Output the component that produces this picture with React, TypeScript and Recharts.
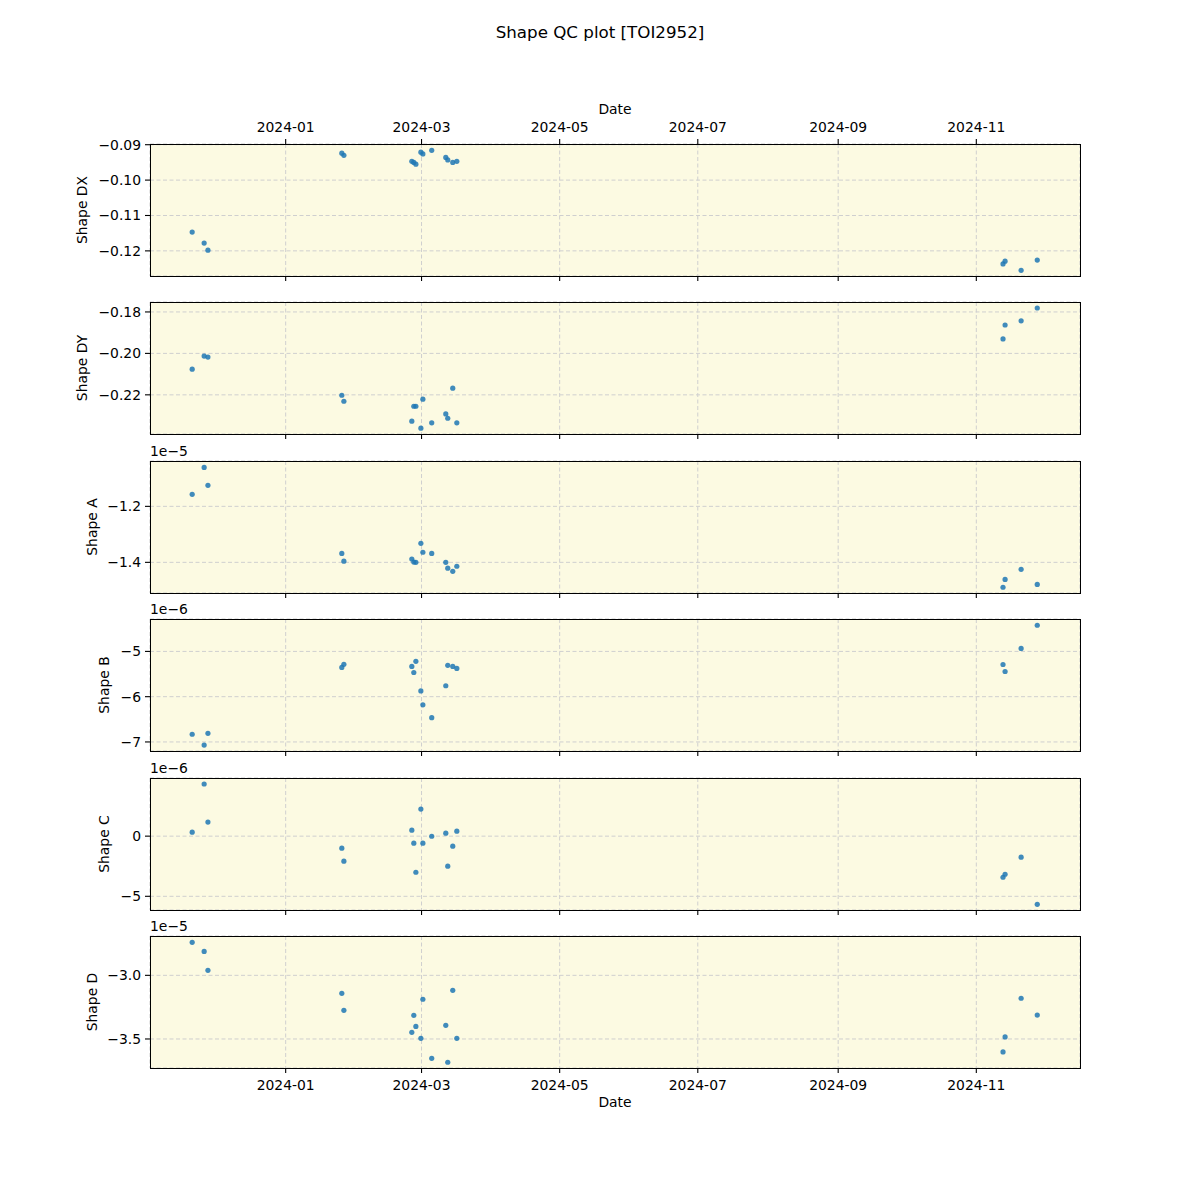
import React from 'react';
import { ScatterChart, Scatter, XAxis, YAxis, CartesianGrid } from 'recharts';

// observation times (UTC)
const dates = [
  '2023-11-20T17:00', '2023-11-26T00:00', '2023-11-27T16:00',
  '2024-01-25T19:00', '2024-01-26T17:00',
  '2024-02-25T17:00', '2024-02-26T14:00', '2024-02-27T12:00',
  '2024-02-29T17:00', '2024-03-01T14:00', '2024-03-05T12:00',
  '2024-03-11T17:00', '2024-03-12T14:00', '2024-03-14T19:00', '2024-03-16T14:00',
  '2024-11-12T19:00', '2024-11-13T17:00', '2024-11-20T19:00', '2024-11-27T22:00',
];

const shapeDX = [
  -0.1147, -0.1178, -0.1198,
  -0.0924, -0.0930,
  -0.0947, -0.0950, -0.0955,
  -0.0921, -0.0926, -0.0916,
  -0.0936, -0.0943, -0.0950, -0.0947,
  -0.1237, -0.1229, -0.1255, -0.1226,
];

const shapeDY = [
  -0.2076, -0.2013, -0.2018,
  -0.2202, -0.2231,
  -0.2327, -0.2255, -0.2255,
  -0.2361, -0.2221, -0.2335,
  -0.2292, -0.2313, -0.2168, -0.2335,
  -0.1930, -0.1863, -0.1843, -0.1781,
];

const shapeA = [
  -1.157e-5, -1.061e-5, -1.125e-5,
  -1.368e-5, -1.396e-5,
  -1.388e-5, -1.399e-5, -1.400e-5,
  -1.332e-5, -1.364e-5, -1.368e-5,
  -1.400e-5, -1.421e-5, -1.432e-5, -1.414e-5,
  -1.489e-5, -1.461e-5, -1.425e-5, -1.479e-5,
];

const shapeB = [
  -6.83e-6, -7.07e-6, -6.81e-6,
  -5.353e-6, -5.286e-6,
  -5.331e-6, -5.466e-6, -5.218e-6,
  -5.872e-6, -6.181e-6, -6.464e-6,
  -5.759e-6, -5.308e-6, -5.331e-6, -5.376e-6,
  -5.289e-6, -5.444e-6, -4.933e-6, -4.422e-6,
];

const shapeC = [
  0.333e-6, 4.333e-6, 1.167e-6,
  -1.0e-6, -2.083e-6,
  0.5e-6, -0.583e-6, -3.0e-6,
  2.25e-6, -0.583e-6, -0.01e-6,
  0.25e-6, -2.5e-6, -0.833e-6, 0.417e-6,
  -3.417e-6, -3.167e-6, -1.75e-6, -5.667e-6,
];

const shapeD = [
  -2.741e-5, -2.812e-5, -2.961e-5,
  -3.141e-5, -3.275e-5,
  -3.448e-5, -3.314e-5, -3.401e-5,
  -3.495e-5, -3.188e-5, -3.652e-5,
  -3.393e-5, -3.683e-5, -3.118e-5, -3.495e-5,
  -3.602e-5, -3.484e-5, -3.180e-5, -3.3125e-5,
];

const dateTicks = ['2024-01-01', '2024-03-01', '2024-05-01', '2024-07-01', '2024-09-01', '2024-11-01'];
const dateRange = ['2023-11-02T02:00', '2024-12-16T19:00'];

const toTime = (s: string) => Date.parse((s.length === 10 ? s + 'T00:00' : s) + ':00Z');
const xTicks = dateTicks.map(toTime);
const xDomain = dateRange.map(toTime);

const FONT = '"DejaVu Sans", sans-serif';

const panels = [
  { label: 'Shape DX', values: shapeDX, ticks: [-0.12, -0.11, -0.1, -0.09], domain: [-0.1271, -0.0898], scale: 1, digits: 2, offset: '', labelX: 83 },
  { label: 'Shape DY', values: shapeDY, ticks: [-0.22, -0.2, -0.18], domain: [-0.2389, -0.1752], scale: 1, digits: 2, offset: '', labelX: 83 },
  { label: 'Shape A', values: shapeA, ticks: [-1.4e-5, -1.2e-5], domain: [-1.5095e-5, -1.038e-5], scale: 1e-5, digits: 1, offset: '1e\u22125', labelX: 93 },
  { label: 'Shape B', values: shapeB, ticks: [-7e-6, -6e-6, -5e-6], domain: [-7.2e-6, -4.284e-6], scale: 1e-6, digits: 0, offset: '1e\u22126', labelX: 105 },
  { label: 'Shape C', values: shapeC, ticks: [-5e-6, 0], domain: [-6.139e-6, 4.833e-6], scale: 1e-6, digits: 0, offset: '1e\u22126', labelX: 105 },
  { label: 'Shape D', values: shapeD, ticks: [-3.5e-5, -3.0e-5], domain: [-3.728e-5, -2.691e-5], scale: 1e-5, digits: 1, offset: '1e\u22125', labelX: 93 },
];

const panelTops = [144, 302, 461, 619, 778, 936];
const PLOT_H = 132;
const PLOT_L = 150;
const PLOT_W = 930;
const PAD = 45;

const fmtDate = (v: number) => {
  const d = new Date(v);
  return `${d.getUTCFullYear()}-${String(d.getUTCMonth() + 1).padStart(2, '0')}`;
};

const Dot = (props: any) => (
  <circle cx={props.cx} cy={props.cy} r={2.6} fill="#1f77b4" fillOpacity={0.85} />
);

const NoLabel = () => <g />;

const tickStyle = { fill: '#000', fontSize: 13.9, fontFamily: FONT };
const tickLineStyle = { stroke: '#000', strokeWidth: 1.1 };

function Panel({ p, index }: { p: (typeof panels)[number]; index: number }) {
  const isFirst = index === 0;
  const isLast = index === panels.length - 1;
  const topH = isFirst ? 40 : 0;
  const botH = isLast ? 40 : 10;
  const data = dates.map((d, i) => ({ t: toTime(d), v: p.values[i] }));
  const fmtY = (v: number) => {
    const s = (v / p.scale).toFixed(p.digits);
    return s === '-0' ? '0' : s.replace('-', '\u2212');
  };
  const top = panelTops[index];
  return (
    <div style={{ position: 'absolute', left: 0, top: top - PAD }}>
      <ScatterChart
        width={1200}
        height={PLOT_H + 2 * PAD}
        margin={{ top: PAD - topH, bottom: PAD - botH, left: PLOT_L - 60, right: 1200 - PLOT_L - PLOT_W }}
      >
        <CartesianGrid fill="#fcfae2" fillOpacity={1} stroke="#cfcfcf" strokeDasharray="4 2.5" />
        <XAxis
          dataKey="t"
          type="number"
          domain={xDomain}
          allowDataOverflow
          ticks={xTicks}
          tickFormatter={fmtDate}
          height={botH}
          axisLine={false}
          tickLine={tickLineStyle}
          tickSize={5}
          tickMargin={7}
          tick={isLast ? tickStyle : NoLabel}
          interval={0}
        />
        {isFirst && (
          <XAxis
            xAxisId="top"
            orientation="top"
            dataKey="t"
            type="number"
            domain={xDomain}
            allowDataOverflow
            ticks={xTicks}
            tickFormatter={fmtDate}
            height={topH}
            axisLine={false}
            tickLine={tickLineStyle}
            tickSize={5}
            tickMargin={7}
            tick={tickStyle}
            interval={0}
          />
        )}
        <YAxis
          dataKey="v"
          type="number"
          domain={p.domain}
          allowDataOverflow
          ticks={p.ticks}
          tickFormatter={fmtY}
          width={60}
          axisLine={false}
          tickLine={tickLineStyle}
          tickSize={5}
          tickMargin={4}
          tick={tickStyle}
          interval={0}
        />
        <Scatter data={data} shape={Dot} isAnimationActive={false} />
      </ScatterChart>
    </div>
  );
}

const textBase: React.CSSProperties = {
  position: 'absolute',
  fontFamily: FONT,
  color: '#000',
  whiteSpace: 'nowrap',
  lineHeight: 1,
};

export default function App() {
  return (
    <div style={{ position: 'absolute', left: 0, top: 0, width: 1200, height: 1200, background: '#fff' }}>
      {panels.map((p, i) => (
        <Panel key={p.label} p={p} index={i} />
      ))}
      {panels.map((p, i) => (
        <div
          key={'frame' + p.label}
          style={{
            position: 'absolute',
            left: PLOT_L - 0.5,
            top: panelTops[i] - 0.5,
            width: PLOT_W + 1,
            height: PLOT_H + 1,
            border: '1px solid #000',
            boxSizing: 'border-box',
            pointerEvents: 'none',
          }}
        />
      ))}
      <div style={{ ...textBase, left: 600, top: 32, fontSize: 16.7, transform: 'translate(-50%, -50%)' }}>
        Shape QC plot [TOI2952]
      </div>
      <div style={{ ...textBase, left: 615, top: 110, fontSize: 13.9, transform: 'translate(-50%, -50%)' }}>Date</div>
      <div style={{ ...textBase, left: 615, top: 1103, fontSize: 13.9, transform: 'translate(-50%, -50%)' }}>Date</div>
      {panels.map((p, i) => (
        <div
          key={'yl' + p.label}
          style={{
            ...textBase,
            left: p.labelX,
            top: panelTops[i] + PLOT_H / 2,
            fontSize: 13.9,
            transform: 'translate(-50%, -50%) rotate(-90deg)',
          }}
        >
          {p.label}
        </div>
      ))}
      {panels.map((p, i) =>
        p.offset ? (
          <div
            key={'off' + p.label}
            style={{ ...textBase, left: PLOT_L, top: panelTops[i] - 9, fontSize: 13.9, transform: 'translateY(-50%)' }}
          >
            {p.offset}
          </div>
        ) : null
      )}
    </div>
  );
}
